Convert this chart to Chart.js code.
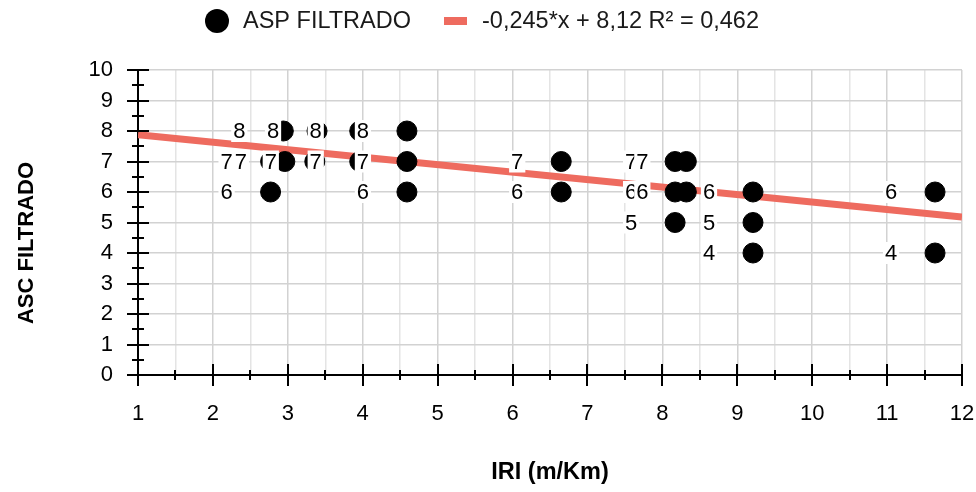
<!DOCTYPE html>
<html>
<head>
<meta charset="utf-8">
<script src="https://cdn.jsdelivr.net/npm/chart.js@4/dist/chart.umd.min.js"></script>
<style>
  html, body { margin: 0; padding: 0; background: #fff; }
  #wrap { width: 976px; height: 492px; position: relative; }
</style>
</head>
<body>
<div id="wrap"><canvas id="c"></canvas></div>
<script>
// values
const iri = [2.77, 2.77, 2.96, 2.94, 3.39, 3.36, 3.96, 3.96, 4.59, 4.59, 4.59, 6.65, 6.65, 8.17, 8.32, 8.17, 8.32, 8.17, 9.21, 9.21, 9.21, 11.64, 11.64];
const asc = [6, 7, 7, 8, 8, 7, 8, 7, 8, 7, 6, 7, 6, 7, 7, 6, 6, 5, 6, 5, 4, 6, 4];
const xTicks = [1, 2, 3, 4, 5, 6, 7, 8, 9, 10, 11, 12];
const yTicks = [0, 1, 2, 3, 4, 5, 6, 7, 8, 9, 10];

// trendline shown in the legend
const slope = -0.245;
const intercept = 8.12;
const trendX = [1, 12];
const trendLabel = '-0,245*x + 8,12 R² = 0,462';
const seriesLabel = 'ASP FILTRADO';

const FONT = "'Liberation Sans', Arial, sans-serif";
const TREND_COLOR = '#ee6b5f';

const points = iri.map((x, i) => ({ x: x, y: asc[i] }));
const trend = trendX.map(x => ({ x: x, y: slope * x + intercept }));

// axis ticks crossing the axis lines, point labels, legend and y title
const decor = {
    id: 'decor',
    afterDatasetsDraw(chart) {
        const ctx = chart.ctx;
        const meta = chart.getDatasetMeta(0);
        ctx.save();
        ctx.font = '22px ' + FONT;
        ctx.textAlign = 'center';
        ctx.textBaseline = 'middle';
        meta.data.forEach((el, i) => {
            const cx = el.x - 44;
            const txt = String(asc[i]);
            const w = ctx.measureText(txt).width + 4;
            ctx.fillStyle = '#fff';
            ctx.fillRect(cx - w / 2, el.y - 11, w, 22);
            ctx.fillStyle = '#000';
            ctx.fillText(txt, cx, el.y + 1);
        });
        ctx.restore();
    },
    afterDraw(chart) {
        const ctx = chart.ctx;
        const xs = chart.scales.x;
        const ys = chart.scales.y;
        const area = chart.chartArea;
        ctx.save();
        ctx.strokeStyle = '#000';
        ctx.lineWidth = 2;
        ctx.beginPath();
        for (let v = 1; v <= 12; v += 0.5) {
            const px = Math.round(xs.getPixelForValue(v));
            const len = Number.isInteger(v) ? 11 : 5;
            ctx.moveTo(px, area.bottom - len);
            ctx.lineTo(px, area.bottom + len);
        }
        for (let v = 0; v <= 10; v += 0.5) {
            const py = Math.round(ys.getPixelForValue(v));
            const len = Number.isInteger(v) ? 11 : 6;
            ctx.moveTo(area.left - len, py);
            ctx.lineTo(area.left + len, py);
        }
        ctx.stroke();

        // y title, centred on the whole chart height like the original
        ctx.fillStyle = '#000';
        ctx.font = 'bold 22px ' + FONT;
        ctx.textAlign = 'center';
        ctx.textBaseline = 'middle';
        ctx.translate(27, 243);
        ctx.rotate(-Math.PI / 2);
        ctx.fillText('ASC FILTRADO', 0, 0);
        ctx.restore();

        // legend
        ctx.save();
        ctx.fillStyle = '#000';
        ctx.beginPath();
        ctx.arc(217, 21, 12, 0, Math.PI * 2);
        ctx.fill();
        ctx.fillStyle = TREND_COLOR;
        ctx.fillRect(444, 17, 23, 8);
        ctx.fillStyle = '#1a1a1a';
        ctx.font = '23.5px ' + FONT;
        ctx.textBaseline = 'middle';
        ctx.fillText(seriesLabel, 243, 22);
        ctx.fillText(trendLabel, 482, 22);
        ctx.restore();
    }
};

new Chart(document.getElementById('c'), {
    type: 'scatter',
    data: {
        datasets: [
            {
                label: seriesLabel,
                data: points,
                backgroundColor: '#000',
                borderColor: '#000',
                pointRadius: 10,
                pointHoverRadius: 10,
                order: 1
            },
            {
                type: 'line',
                label: trendLabel,
                data: trend,
                borderColor: TREND_COLOR,
                borderWidth: 7,
                pointRadius: 0,
                fill: false,
                order: 2
            }
        ]
    },
    options: {
        responsive: true,
        maintainAspectRatio: false,
        animation: false,
        layout: { padding: { top: 70, right: 14, left: 0, bottom: 0 } },
        plugins: {
            legend: { display: false },
            tooltip: { enabled: false }
        },
        scales: {
            x: {
                type: 'linear',
                min: 1,
                max: 12,
                afterFit: s => { s.height = 117; s.paddingLeft = 0; s.paddingRight = 0; },
                afterBuildTicks: s => { s.ticks = []; for (let v = 1; v <= 12; v += 0.5) s.ticks.push({ value: v }); },
                ticks: {
                    autoSkip: false,
                    maxRotation: 0,
                    padding: 26,
                    color: '#000',
                    font: { family: FONT, size: 22 },
                    callback: v => xTicks.includes(v) ? v : ''
                },
                grid: {
                    drawTicks: false,
                    lineWidth: 1.5,
                    color: c => Number.isInteger(c.tick.value) ? '#d2d2d2' : '#e4e4e4'
                },
                border: { color: '#000', width: 2 },
                title: {
                    display: true,
                    text: 'IRI (m/Km)',
                    color: '#000',
                    font: { family: FONT, size: 23.5, weight: 'bold' },
                    padding: { top: 0, bottom: 5 }
                }
            },
            y: {
                min: 0,
                max: 10,
                afterFit: s => { s.width = 138; },
                afterBuildTicks: s => { s.ticks = yTicks.map(v => ({ value: v })); },
                ticks: {
                    padding: 25,
                    color: '#000',
                    font: { family: FONT, size: 22 }
                },
                grid: {
                    drawTicks: false,
                    lineWidth: 1.5,
                    color: '#d2d2d2'
                },
                border: { color: '#000', width: 2 }
            }
        }
    },
    plugins: [decor]
});
</script>
</body>
</html>
